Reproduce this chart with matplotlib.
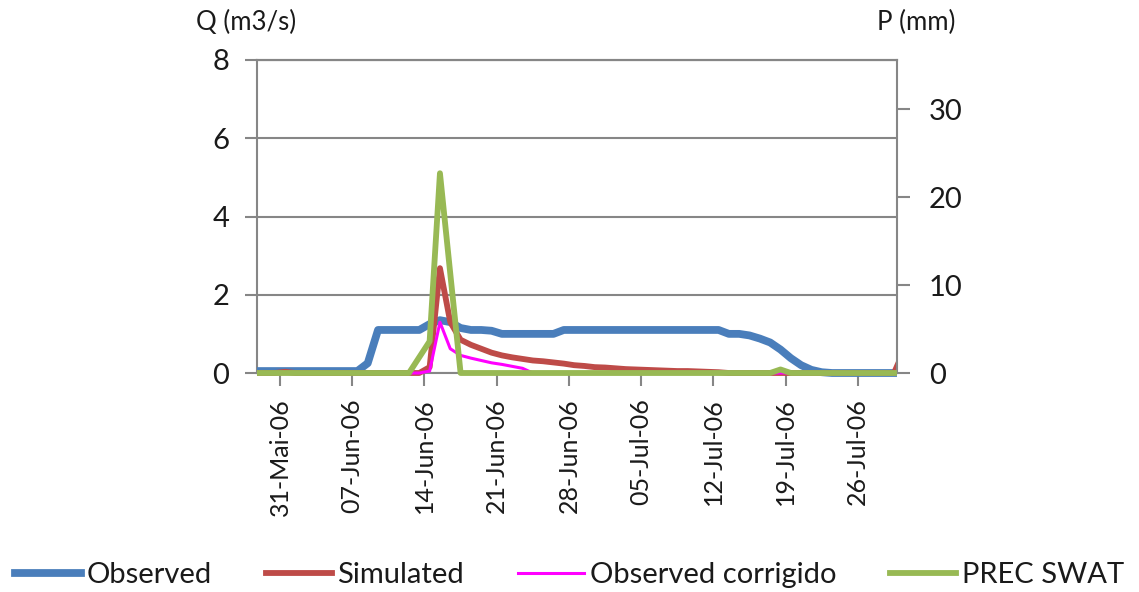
import numpy as np
import pandas as pd
import matplotlib
matplotlib.use("Agg")
import matplotlib.pyplot as plt
from matplotlib.transforms import Bbox, TransformedBbox

plt.rcParams['font.family'] = ['Lato', 'DejaVu Sans']

# ---------------- data (daily, 28-May-2006 .. 30-Jul-2006) ----------------
dates = pd.date_range('2006-05-28', '2006-07-30', freq='D')

observed = [0.05, 0.05, 0.05, 0.05, 0.05, 0.05, 0.05, 0.05, 0.05, 0.05,   # May28-Jun6
            0.05, 0.25, 1.1, 1.1, 1.1, 1.1, 1.1,                          # Jun7-Jun13
            1.25, 1.35, 1.3, 1.15, 1.1, 1.1, 1.08,                        # Jun14-Jun20
            1.0, 1.0, 1.0, 1.0, 1.0, 1.0, 1.1,                            # Jun21-Jun27
            1.1, 1.1, 1.1, 1.1, 1.1, 1.1, 1.1,                            # Jun28-Jul4
            1.1, 1.1, 1.1, 1.1, 1.1, 1.1, 1.1, 1.1,                       # Jul5-Jul12
            1.0, 1.0, 0.96, 0.88, 0.78, 0.6, 0.38, 0.2, 0.08, 0.02,       # Jul13-Jul22
            0.0, 0.0, 0.0, 0.0, 0.0, 0.0, 0.0, np.nan]                    # Jul23-Jul30

simulated = [0.0, 0.0, 0.0, 0.03, 0.0, 0.0, 0.0, 0.0, 0.0, 0.0,           # May28-Jun6
             0.0, 0.0, 0.0, 0.0, 0.0, 0.0, 0.0,                           # Jun7-Jun13
             0.15, 2.68, 1.3, 0.85, 0.72, 0.62, 0.52,                     # Jun14-Jun20
             0.45, 0.4, 0.36, 0.32, 0.3, 0.27, 0.24,                      # Jun21-Jun27
             0.2, 0.18, 0.15, 0.14, 0.12, 0.1, 0.09,                      # Jun28-Jul4
             0.08, 0.07, 0.06, 0.05, 0.05, 0.04, 0.03, 0.02,              # Jul5-Jul12
             0.0, 0.0, 0.0, 0.0, 0.0, 0.0, 0.0, 0.0, 0.0, 0.0,            # Jul13-Jul22
             0.0, 0.0, 0.0, 0.0, 0.0, 0.0, 0.0, 0.6]                      # Jul23-Jul30

observed_corr = [0.0, 0.0, 0.0, 0.0, 0.0, 0.0, 0.0, 0.0, 0.0, 0.0,        # May28-Jun6
                 0.0, 0.0, 0.0, 0.0, 0.0, 0.0, 0.0,                       # Jun7-Jun13
                 0.05, 1.3, 0.62, 0.45, 0.38, 0.32, 0.26,                 # Jun14-Jun20
                 0.22, 0.17, 0.12, 0.0, 0.0, 0.0, 0.0,                    # Jun21-Jun27
                 0.0, 0.0, 0.0, 0.0, 0.0, 0.0, 0.0,                       # Jun28-Jul4
                 0.0, 0.0, 0.0, 0.0, 0.0, 0.0, 0.0, 0.0,                  # Jul5-Jul12
                 0.0, 0.0, 0.0, 0.0, 0.0, 0.0, 0.0, 0.0, 0.0, 0.0,        # Jul13-Jul22
                 0.0, 0.0, 0.0, 0.0, 0.0, 0.0, 0.0, np.nan]               # Jul23-Jul30

prec_swat = [0.0, 0.0, 0.0, 0.0, 0.0, 0.0, 0.0, 0.0, 0.0, 0.0,            # May28-Jun6
             0.0, 0.0, 0.0, 0.0, 0.0, 0.0, 1.8,                           # Jun7-Jun13
             3.6, 22.7, 11.3, 0.0, 0.0, 0.0, 0.0,                         # Jun14-Jun20
             0.0, 0.0, 0.0, 0.0, 0.0, 0.0, 0.0,                           # Jun21-Jun27
             0.0, 0.0, 0.0, 0.0, 0.0, 0.0, 0.0,                           # Jun28-Jul4
             0.0, 0.0, 0.0, 0.0, 0.0, 0.0, 0.0, 0.0,                      # Jul5-Jul12
             0.0, 0.0, 0.0, 0.0, 0.0, 0.4, 0.0, 0.0, 0.0, 0.0,            # Jul13-Jul22
             0.0, 0.0, 0.0, 0.0, 0.0, 0.0, 0.0, np.nan]                   # Jul23-Jul30

tick_dates = pd.to_datetime(['2006-05-31', '2006-06-07', '2006-06-14', '2006-06-21',
                             '2006-06-28', '2006-07-05', '2006-07-12', '2006-07-19',
                             '2006-07-26'])
tick_labels = ['31-Mai-06', '07-Jun-06', '14-Jun-06', '21-Jun-06', '28-Jun-06',
               '05-Jul-06', '12-Jul-06', '19-Jul-06', '26-Jul-06']

series_labels = ['Observed', 'Simulated', 'Observed corrigido', 'PREC SWAT']
colors = ['#4a7ebb', '#be4b48', '#ff00ff', '#98b954']

# ---------------- figure ----------------
W, H = 1139, 592
fig = plt.figure(figsize=(W / 100, H / 100), dpi=100)
ax = fig.add_axes([257 / W, 1 - 373 / H, 640 / W, 313 / H])
ax2 = ax.twinx()

# points sit in the middle of each day slot
xpos = dates + pd.Timedelta(hours=12)

l1, = ax.plot(xpos, observed, color=colors[0], lw=5.6, solid_joinstyle='round', zorder=3)
l2, = ax.plot(xpos, simulated, color=colors[1], lw=4.2, solid_joinstyle='round', zorder=4)
l3, = ax.plot(xpos, observed_corr, color=colors[2], lw=2.2, solid_joinstyle='round', zorder=5)
l4, = ax2.plot(xpos, prec_swat, color=colors[3], lw=4.2, solid_joinstyle='round', zorder=3)

clip = TransformedBbox(Bbox([[0, -0.05], [1, 1.0]]), ax.transAxes)
for ln in (l1, l2, l3, l4):
    ln.set_clip_box(clip)

gray = '#868686'
ax.set_xlim(pd.Timestamp('2006-05-28 18:30'), pd.Timestamp('2006-07-29 19:00'))
ax.set_ylim(0, 8)
ax.set_yticks([0, 2, 4, 6, 8])
ax2.set_ylim(0, 35.57)
ax2.set_yticks([0, 10, 20, 30])

ax.set_xticks(tick_dates)
ax.set_xticklabels(tick_labels, rotation=90)

ax.grid(axis='y', color=gray, lw=1.5)
ax.set_axisbelow(True)

for a in (ax, ax2):
    for s in a.spines.values():
        s.set_color(gray)
        s.set_linewidth(1.5)
ax.spines['right'].set_visible(False)
ax2.spines['left'].set_visible(False)
ax2.spines['bottom'].set_visible(False)

txt = '#1a1a1a'
ax.tick_params(axis='y', direction='out', length=9, width=1.5, color=gray, pad=11,
               labelsize=21, labelcolor=txt)
ax.tick_params(axis='x', direction='out', length=9, width=1.5, color=gray, pad=9,
               labelsize=18, labelcolor=txt)
ax2.tick_params(axis='y', direction='out', length=9, width=1.5, color=gray, pad=14,
                labelsize=21, labelcolor=txt)

fig.text(196 / W, 1 - 22 / H, 'Q (m3/s)', fontsize=18.5, color=txt, ha='left', va='center')
fig.text(877 / W, 1 - 22 / H, 'P (mm)', fontsize=18.5, color=txt, ha='left', va='center')

fig.legend([l1, l2, l3, l4], series_labels, loc='center', bbox_to_anchor=(0.5, 1 - 575 / H),
           ncol=4, frameon=False, fontsize=21, handlelength=2.25, handletextpad=0.2,
           columnspacing=1.85, labelcolor=txt)

fig.savefig('out.png', dpi=100)
